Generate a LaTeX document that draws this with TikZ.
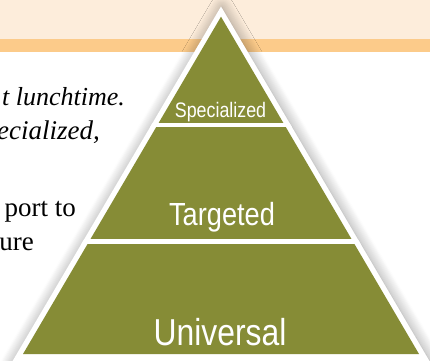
\documentclass[tikz,border=0pt]{standalone}
\usepackage{fontspec}
\setmainfont{Liberation Serif}
\newfontfamily\tierfont[FakeStretch=0.85]{Liberation Sans}
\usetikzlibrary{shadows.blur}

\definecolor{tiergreen}{RGB}{134,140,54}
\definecolor{bandbeige}{RGB}{253,237,219}
\definecolor{bandorange}{RGB}{252,203,138}

\begin{document}
\begin{tikzpicture}[x=1pt,y=-1pt,
	tier/.style={text=white,inner sep=0pt,anchor=base},
	prose/.style={inner sep=0pt,anchor=base east,font=\fontsize{27}{32}\selectfont}]
	\useasboundingbox (0,0) rectangle (430,360);
	\clip (0,0) rectangle (430,360);
	\fill[bandbeige] (0,0) rectangle (430,39);
	\fill[bandorange] (0,39) rectangle (430,52);
	\node[prose,font=\fontsize{26}{32}\selectfont] (lineA) at (125,105) {\itshape t lunchtime.};
	\node[prose] (lineB) at (100,139) {\itshape pecialized,};
	\node[prose] (lineC) at (76,216) {port to};
	\node[prose] (lineD) at (34,250) {ure};
	% pyramid
	\coordinate (outtop) at (221,6.5);
	\coordinate (outL) at (12,362);
	\coordinate (outR) at (430,362);
	\fill[white,blur shadow={shadow xshift=1pt,shadow yshift=-1pt,shadow blur radius=12pt,shadow blur steps=12,shadow opacity=40}] (outtop) -- (outL) -- (outR) -- cycle;
	\begin{scope}
		\clip (outtop) -- (outL) -- (outR) -- cycle;
		\fill[tiergreen] (221,16.7) -- (23,354) -- (419,354) -- cycle;
		\draw[white,line width=4.5pt] (0,125) -- (430,125);
		\draw[white,line width=4.5pt] (0,241.5) -- (430,241.5);
	\end{scope}
	\node[tier,font=\tierfont\fontsize{21}{24}\selectfont] (spec) at (220.5,117) {Specialized};
	\node[tier,font=\tierfont\fontsize{32}{36}\selectfont] (targ) at (222,225) {Targeted};
	\node[tier,font=\tierfont\fontsize{37.5}{42}\selectfont] (univ) at (220,345) {Universal};
\end{tikzpicture}
\end{document}
